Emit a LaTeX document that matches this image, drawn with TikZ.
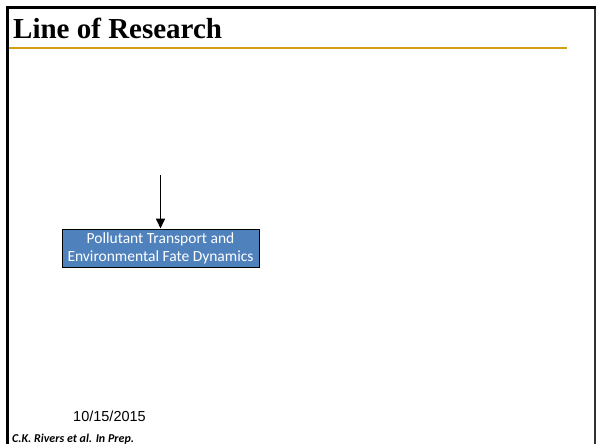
\documentclass[tikz,border=0pt]{standalone}
\usepackage{fontspec}
\setmainfont{Liberation Serif}
\newfontfamily\calibri{Carlito}
\newfontfamily\arial{Liberation Sans}
\usetikzlibrary{arrows.meta}
\definecolor{gold}{RGB}{212,160,18}
\definecolor{boxblue}{RGB}{79,129,189}
\definecolor{framegray}{RGB}{50,50,50}
\tikzset{
  framebar/.style={line width=3pt, black},
  procbox/.style={draw=black, line width=1pt, fill=boxblue, text=white, align=center,
    minimum width=197pt, minimum height=38pt, inner sep=0pt, font=\calibri\fontsize{15.5}{18}\selectfont},
  flowarrow/.style={-{Stealth[length=10pt,width=9pt,inset=0pt]}, line width=1.6pt, black}
}
\begin{document}
\begin{tikzpicture}[x=1pt,y=-1pt]
\useasboundingbox (0,0) rectangle (596,444);
\fill[white] (0,0) rectangle (596,444);
% frame
\draw[framebar] (6,7.5) -- (596,7.5);
\draw[framebar] (7.5,6) -- (7.5,444);
\draw[framegray, line width=1.5pt] (594.8,9) -- (594.8,444);
% title
\node[anchor=base west, inner sep=0pt, font=\bfseries\fontsize{29}{32}\selectfont] (title) at (13,38) {Line of Research};
\draw[gold, line width=2.5pt] (9,48) -- (567,48);
% box and arrow
\node[procbox] (box) at (160.5,248) {Pollutant Transport and\\Environmental Fate Dynamics};
\coordinate (src) at (160.5,175);
\draw[flowarrow] (src) -- (box.north);
% footer
\node[anchor=base west, inner sep=0pt, font=\arial\fontsize{14.5}{16}\selectfont] (date) at (73,421) {10/15/2015};
\node[anchor=base west, inner sep=0pt, font=\calibri\bfseries\itshape\fontsize{12}{14}\selectfont] (cite) at (12,442) {C.K. Rivers et al. In Prep.};
\end{tikzpicture}
\end{document}
